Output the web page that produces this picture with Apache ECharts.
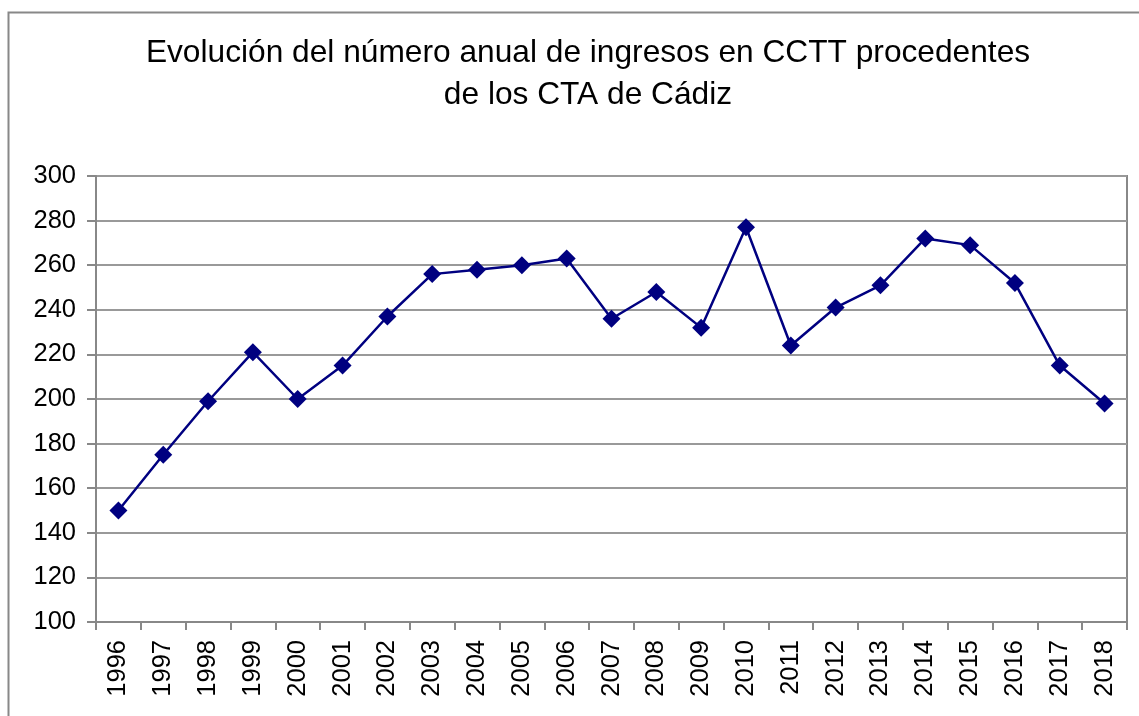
<!DOCTYPE html>
<html>
<head>
<meta charset="utf-8">
<script src="https://cdn.jsdelivr.net/npm/echarts@6/dist/echarts.min.js"></script>
<style>
  html, body { margin: 0; padding: 0; background: #fff; }
  #chart { width: 1139px; height: 716px; }
</style>
</head>
<body>
<div id="chart"></div>
<script>
// datos
const years = ['1996', '1997', '1998', '1999', '2000', '2001', '2002', '2003', '2004', '2005', '2006', '2007',
  '2008', '2009', '2010', '2011', '2012', '2013', '2014', '2015', '2016', '2017', '2018'];
const ingresos = [150, 175, 199, 221, 200, 215, 237, 256, 258, 260, 263, 236,
  248, 232, 277, 224, 241, 251, 272, 269, 252, 215, 198];
const yMin = 100;
const yMax = 300;
const yStep = 20;

const fontFamily = '"Liberation Sans", Arial, sans-serif';
const chart = echarts.init(document.getElementById('chart'));

const option = {
  backgroundColor: '#fff',
  animation: false,
  title: {
    text: 'Evolución del número anual de ingresos en CCTT procedentes\nde los CTA de Cádiz',
    left: 588,
    top: 32,
    padding: 0,
    textAlign: 'center',
    textStyle: {
      color: '#000',
      fontFamily,
      fontSize: 31.7,
      fontWeight: 'normal',
      lineHeight: 42,
    },
  },
  graphic: [
    {
      type: 'rect',
      left: 6,
      top: 10,
      shape: { width: 1150, height: 730 },
      style: { fill: 'none', stroke: '#888', lineWidth: 2 },
      silent: true,
    },
  ],
  grid: {
    left: 96,
    right: 12,
    top: 176,
    bottom: 94,
    show: true,
    borderColor: '#888',
    borderWidth: 2,
    backgroundColor: 'transparent',
  },
  xAxis: {
    type: 'category',
    data: years,
    boundaryGap: true,
    axisLine: { lineStyle: { color: '#888', width: 2 } },
    axisTick: { show: true, alignWithLabel: false, length: 8, lineStyle: { color: '#888', width: 2 } },
    axisLabel: {
      rotate: 90,
      margin: 18,
      color: '#000',
      fontFamily,
      fontSize: 25.5,
      interval: 0,
    },
    splitLine: { show: false },
  },
  yAxis: {
    type: 'value',
    min: yMin,
    max: yMax,
    interval: yStep,
    axisLine: { show: true, lineStyle: { color: '#888', width: 2 } },
    axisTick: { show: true, length: 9, lineStyle: { color: '#888', width: 2 } },
    axisLabel: {
      margin: 20,
      color: '#000',
      fontFamily,
      fontSize: 25.5,
    },
    splitLine: { show: true, lineStyle: { color: '#999', width: 2 } },
  },
  series: [
    {
      type: 'line',
      data: ingresos,
      symbol: 'diamond',
      symbolSize: 18,
      lineStyle: { color: '#000080', width: 2.5 },
      itemStyle: { color: '#000080' },
      z: 5,
    },
  ],
};

chart.setOption(option);
</script>
</body>
</html>
